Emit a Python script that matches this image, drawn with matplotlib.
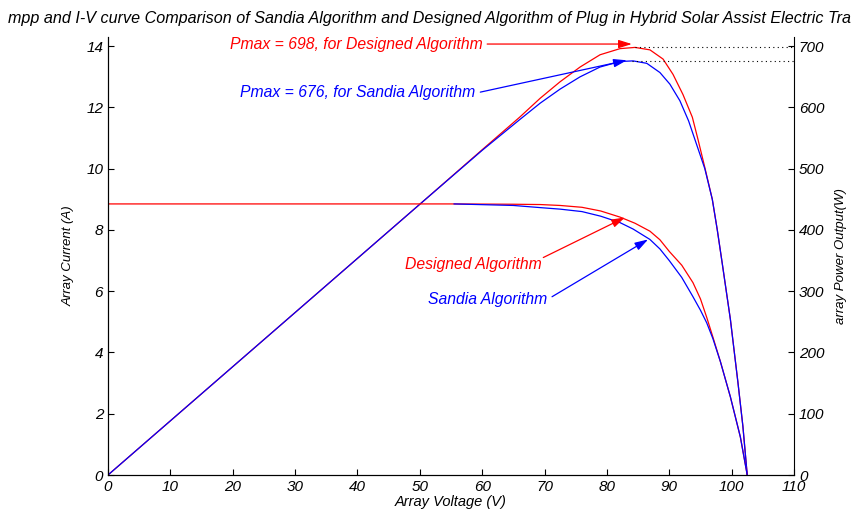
import matplotlib
matplotlib.use("Agg")
import matplotlib.pyplot as plt

# %%
# values
# I-V curves (V, A)
iv_des_v = [0, 55, 65, 69.3, 72.5, 76, 79, 82.1, 84.5, 86.9, 88.5, 90, 92, 93.8, 95, 96, 97, 98.2, 99.8, 101.4, 102.5]
iv_des_i = [8.85, 8.85, 8.84, 8.83, 8.80, 8.74, 8.62, 8.42, 8.22, 7.96, 7.68, 7.30, 6.85, 6.28, 5.75, 5.15, 4.50, 3.70, 2.55, 1.24, 0.0]
iv_san_v = [55.5, 65, 69.3, 72.5, 76, 79, 82.1, 84.2, 86.9, 88.5, 90, 92, 93.8, 95, 96, 97, 98.2, 99.8, 101.4, 102.5]
iv_san_i = [8.85, 8.80, 8.73, 8.68, 8.60, 8.45, 8.24, 8.03, 7.69, 7.38, 7.00, 6.45, 5.82, 5.38, 4.97, 4.45, 3.70, 2.55, 1.24, 0.0]

# P-V curves (V, W)
pv_des_v = [0, 50, 60, 66, 69.3, 72.5, 75.7, 78.9, 82.1, 84.5, 86.9, 89.0, 90.6, 92.2, 93.7, 94.6, 95.7, 96.9, 97.7, 98.5, 99.8, 101.0, 101.8, 102.5]
pv_des_p = [0, 442, 531, 584, 615, 642, 666, 686, 696, 698, 694, 679, 654, 621, 584, 548, 502, 450, 400, 345, 254, 152, 80, 0]
pv_san_v = [0, 50, 60, 66, 69.3, 72.5, 75.7, 78.9, 82.1, 84.2, 86.4, 88.5, 90.1, 91.7, 93.1, 94.2, 95.7, 96.9, 97.7, 98.5, 99.8, 101.0, 101.8, 102.5]
pv_san_p = [0, 442, 530, 580, 607, 630, 650, 666, 675, 676, 672, 657, 638, 611, 578, 545, 500, 450, 400, 345, 254, 152, 80, 0]

pmax_des = 698
pmax_san = 676
vmp_des = 84.5
vmp_san = 84

x_ticks = list(range(0, 111, 10))
yl_ticks = list(range(0, 15, 2))
yr_ticks = list(range(0, 701, 100))

title = ("mpp and I-V curve Comparison of Sandia Algorithm and Designed Algorithm "
         "of Plug in Hybrid Solar Assist Electric Tractor")

# %%
plt.rcParams['font.family'] = ['Liberation Sans', 'DejaVu Sans']
plt.rcParams['font.style'] = 'italic'

fig = plt.figure(figsize=(8.51, 5.11), dpi=100)
ax = fig.add_axes([108/851, 1-475/511, (794-108)/851, (475-37)/511])
ax2 = ax.twinx()

ylim_l = 14.3
ax.set_xlim(0, 110)
ax.set_ylim(0, ylim_l)
ax2.set_ylim(0, ylim_l*50)

# power drawn on left scale (W/50) so both curves share the axes
ax.plot(pv_des_v, [p/50 for p in pv_des_p], color="red", lw=0.9)
ax.plot(pv_san_v, [p/50 for p in pv_san_p], color="blue", lw=0.9)
ax.plot(iv_des_v, iv_des_i, color="red", lw=0.9)
ax.plot(iv_san_v, iv_san_i, color="blue", lw=0.9)

# dotted lines from the peaks to the power axis
ax.plot([vmp_des, 110], [pmax_des/50]*2, color="black", ls=(0, (1, 3)), lw=0.8)
ax.plot([vmp_san, 110], [pmax_san/50]*2, color="black", ls=(0, (1, 3)), lw=0.8)

fs = 11.3
ap_r = dict(arrowstyle="-|>,head_length=0.8,head_width=0.25", color="red", lw=0.9, shrinkA=0, shrinkB=0)
ap_b = dict(arrowstyle="-|>,head_length=0.8,head_width=0.25", color="blue", lw=0.9, shrinkA=0, shrinkB=0)

ax.text(19.6, 14.07, "Pmax = 698, for Designed Algorithm", color="red", fontsize=fs, va="center")
ax.annotate("", xy=(84.0, 14.07), xytext=(60.8, 14.07), arrowprops=ap_r)
ax.text(21.2, 12.5, "Pmax = 676, for Sandia Algorithm", color="blue", fontsize=fs, va="center")
ax.annotate("", xy=(83.2, 13.54), xytext=(59.7, 12.5), arrowprops=ap_b)
ax.text(47.6, 6.87, "Designed Algorithm", color="red", fontsize=fs, va="center")
ax.annotate("", xy=(82.9, 8.41), xytext=(69.8, 7.10), arrowprops=ap_r)
ax.text(51.3, 5.72, "Sandia Algorithm", color="blue", fontsize=fs, va="center")
ax.annotate("", xy=(86.6, 7.69), xytext=(71.2, 5.82), arrowprops=ap_b)

ax.set_xticks(x_ticks)
ax.set_yticks(yl_ticks)
ax2.set_yticks(yr_ticks)
for a in (ax, ax2):
    a.tick_params(direction="in", length=4, labelsize=11)
    a.spines['top'].set_visible(False)
ax.spines['right'].set_visible(False)

ax.set_xlabel("Array Voltage (V)", fontsize=10.5, labelpad=1)
ax.set_ylabel("Array Current (A)", fontsize=9.5, labelpad=8)
ax2.set_ylabel("array Power Output(W)", fontsize=9.5, labelpad=8)

fig.text(8/851, 1-18/511, title, fontsize=11.6, ha="left", va="center")

plt.savefig("out.png", dpi=100)
